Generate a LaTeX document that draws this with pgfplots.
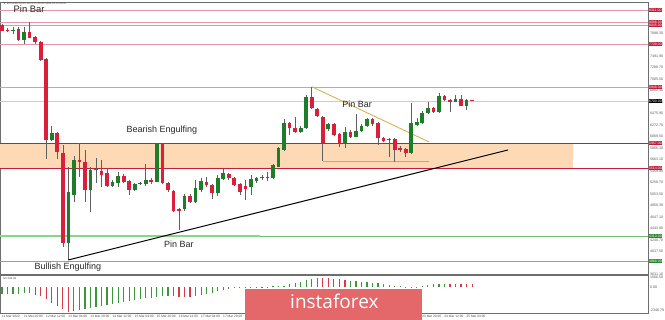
\documentclass[border=0pt]{standalone}
\usepackage{fontspec}
\setmainfont{Liberation Sans}
\newfontfamily\logofont{Open Sans}
\usepackage{pgfplots}
\usepackage{pgfplotstable}
\pgfplotsset{compat=1.18}
\definecolor{zone}{RGB}{253,217,182}
\definecolor{lred}{RGB}{196,28,58}
\definecolor{lpink}{RGB}{226,150,168}
\definecolor{cgreen}{RGB}{30,125,40}
\definecolor{cred}{RGB}{218,30,60}
\definecolor{wick}{RGB}{95,95,95}
\definecolor{gline}{RGB}{135,215,135}
\definecolor{gthin}{RGB}{110,190,110}
\definecolor{glab}{RGB}{40,135,45}
\definecolor{yel}{RGB}{215,170,60}
\definecolor{aog}{RGB}{60,150,60}
\definecolor{aor}{RGB}{215,60,70}
\definecolor{logo}{RGB}{228,104,106}
\definecolor{frame}{RGB}{110,110,110}

\pgfplotstableread{
i o h l c
2 7939 8010 7886 7951
4 7780 8010 7709 7927
9 6010 6257 5992 6134
12 4192 5532 3886 5095
13 5036 5726 4918 5656
16 5125 5537 4741 5479
20 5196 5302 5178 5266
21 5254 5449 5183 5378
24 5125 5249 5107 5231
25 5231 5266 5213 5240
26 5231 5585 5196 5302
28 5272 5957 5266 5939
33 4788 5054 4753 5024
35 4918 5302 4895 5165
36 5125 5337 5089 5284
39 5066 5390 5018 5332
40 5319 5514 5302 5426
45 5183 5390 5036 5319
46 5284 5355 5249 5337
47 5332 5390 5302 5337
48 5337 5443 5284 5342
49 5332 5585 5319 5567
50 5537 5886 5532 5868
51 5833 6381 5815 6311
54 6151 6257 6134 6222
55 6222 6806 6204 6776
59 6199 6311 6169 6293
62 5951 6240 5868 6157
64 6068 6470 6063 6169
65 6169 6293 6151 6263
66 6263 6399 6240 6376
74 5774 6659 5762 6305
75 6275 6399 6258 6334
76 6305 6523 6293 6488
77 6482 6688 6470 6581
79 6500 6847 6488 6789
82 6688 6806 6682 6730
84 6617 6735 6541 6718
}\upc

\pgfplotstableread{
i o h l c
0 8045 8063 7939 7944
1 7957 7992 7921 7939
3 7974 8015 7767 7780
5 7927 8104 7815 7820
6 7838 7850 7709 7750
7 7750 7762 7408 7426
8 7443 7461 5673 6010
10 6134 6151 5673 5797
11 5785 5921 4121 4187
14 5656 5957 5355 5626
15 5626 5833 4918 5125
17 5479 5691 5249 5470
18 5466 5656 5183 5390
19 5426 5514 5183 5196
22 5378 5408 5249 5272
23 5284 5302 5036 5125
27 5302 5337 5231 5272
29 5939 5957 5231 5254
30 5254 5266 5089 5125
31 5112 5125 4735 4758
32 4783 4806 4417 4758
34 5024 5054 4895 4918
37 5272 5355 5178 5213
38 5213 5231 4965 5066
41 5408 5426 5302 5337
42 5337 5355 5196 5213
43 5231 5249 5036 5095
44 5196 5302 4948 5142
52 6311 6328 6098 6227
53 6227 6417 6134 6157
56 6776 6953 6558 6571
57 6558 6576 6417 6434
58 6422 6434 5638 5951
60 6293 6311 6080 6098
61 6116 6134 5886 5951
63 6157 6187 6045 6068
67 6376 6399 6258 6288
68 6305 6328 5921 6040
69 6040 6063 5974 5997
70 6022 6045 5714 6013
71 6022 6045 5626 5833
72 5845 5904 5797 5841
73 5845 5868 5714 5774
78 6576 6594 6488 6500
80 6789 6806 6700 6718
81 6718 6735 6511 6688
83 6730 6806 6612 6617
85 6718 6726 6691 6700
}\dnc

\pgfplotstableread{
i v
0 -700
1 -690
2 -680
3 -670
4 -660
5 -650
13 -2441
14 -2338
15 -2235
16 -2132
17 -2029
18 -1926
19 -1823
20 -1720
21 -1617
22 -1514
23 -1411
24 -1308
25 -1236
26 -1164
27 -1102
28 -1030
29 -960
30 -900
35 -950
36 -830
37 -700
38 -570
39 -440
40 -320
41 -230
42 -150
43 -100
44 -65
45 -35
46 -15
47 15
48 35
49 60
50 90
51 150
52 280
53 400
54 560
55 700
56 850
57 960
63 620
64 570
65 520
66 470
67 420
68 370
69 310
70 250
71 90
72 60
73 40
74 30
75 40
76 150
77 210
78 260
79 300
80 330
}\aogreen

\pgfplotstableread{
i v
6 -790
7 -927
8 -1267
9 -1617
10 -1957
11 -2297
12 -2544
31 -930
32 -980
33 -1010
34 -1020
58 940
59 900
60 850
61 790
62 700
81 320
82 310
83 300
84 290
85 280
}\aored

\begin{document}
\begin{tikzpicture}
\useasboundingbox (0,0) rectangle (665pt,-320pt);
\begin{axis}[at={(0pt,-2pt)}, anchor=north west,
  width=648pt, height=272.7pt, scale only axis,
  xmin=-0.36, xmax=116.8, ymin=3625, ymax=8452,
  clip=false,
  axis line style={frame, line width=0.5pt},
  xtick=\empty,
  ytick={3631.1,4037.5,4240.7,4443.9,4647.1,4850.3,5053.5,5256.7,5459.9,5663.1,5866.3,6069.5,6272.7,6475.9,6679.1,6882.3,7085.5,7288.7,7491.9,7695.1,7898.3},
  ytick pos=right, yticklabel pos=right,
  scaled y ticks=false,
  tick align=outside, major tick length=1.2pt,
  tick style={frame, line width=0.3pt},
  yticklabel style={font=\fontsize{3.6}{4}\selectfont, text=black!65, inner sep=0.6pt},
  /pgf/number format/.cd, fixed, fixed zerofill, precision=2, 1000 sep={}, assume math mode=true,
]
% zone
\addplot[fill=zone, draw=none] coordinates {(-0.36,5514) (103.3,5514) (103.3,5957) (-0.36,5957)} -- cycle;
% horizontal levels
\addplot[lpink, line width=0.6pt] coordinates {(-0.36,8311) (116.8,8311)};
\addplot[lpink, line width=0.6pt] coordinates {(-0.36,8098) (116.8,8098)};
\addplot[lpink, line width=0.6pt] coordinates {(-0.36,8045) (116.8,8045)};
\addplot[lpink, line width=0.6pt] coordinates {(-0.36,7709) (116.8,7709)};
\addplot[lpink, line width=0.7pt] coordinates {(-0.36,6948) (116.8,6948)};
\addplot[black!20, line width=0.5pt] coordinates {(-0.36,6700) (116.8,6700)};
\addplot[lred, line width=0.9pt] coordinates {(-0.36,5957) (116.8,5957)};
\addplot[lred, line width=0.9pt] coordinates {(-0.36,5514) (116.8,5514)};
\addplot[gline, line width=2.2pt] coordinates {(-0.36,4310) (46.7,4310)};
\addplot[gthin, line width=0.5pt] coordinates {(46.7,4310) (116.8,4310)};
\addplot[gthin, line width=0.6pt] coordinates {(-0.36,3868) (116.8,3868)};
% triangle
\addplot[yel, line width=0.8pt] coordinates {(56,6953) (77.2,5974)};
\addplot[yel, line width=0.8pt] coordinates {(58,5638) (77.2,5638)};
% candles: wicks
\addplot[wick, line width=0.6pt, quiver={u=0, v=\thisrow{h}-\thisrow{l}}] table[x=i, y=l] {\upc};
\addplot[wick, line width=0.6pt, quiver={u=0, v=\thisrow{h}-\thisrow{l}}] table[x=i, y=l] {\dnc};
% bodies
\addplot[cgreen, line width=3.7pt, quiver={u=0, v={max(\thisrow{c}-\thisrow{o},18)}}] table[x=i, y=o] {\upc};
\addplot[cred, line width=3.7pt, quiver={u=0, v={max(\thisrow{o}-\thisrow{c},18)}}] table[x=i, y=c] {\dnc};
% trend line
\addplot[black, line width=1pt] coordinates {(12,3886) (91.5,5833)};
% annotations
\node[font=\fontsize{9.4}{10}\selectfont, text=black!85] at (axis cs:4.9,8328) {Pin Bar};
\node[font=\fontsize{9}{10}\selectfont, text=black!85] at (axis cs:28.9,6187) {Bearish Engulfing};
\node[font=\fontsize{9}{10}\selectfont, text=black!85] at (axis cs:11.9,3762) {Bullish Engulfing};
\node[font=\fontsize{9}{10}\selectfont, text=black!85] at (axis cs:32,4169) {Pin Bar};
\node[font=\fontsize{9}{10}\selectfont, text=black!85] at (axis cs:64.2,6647) {Pin Bar};
\node[anchor=west, font=\fontsize{2.8}{3}\selectfont, text=black!70, inner sep=0pt] at (axis cs:0.2,8418) {▼ BTCUSD,H4 6718.00 6726.00 6691.00 6700.00};
% right labels
\tikzset{lab/.style={anchor=west, text=white, font=\fontsize{3.5}{3.8}\selectfont, inner sep=0.5pt, xshift=0.4pt}}
\node[lab, fill=lred] at (axis cs:116.8,8311) {8311.00};
\node[lab, fill=lred] at (axis cs:116.8,8098) {8098.00};
\node[lab, fill=lred] at (axis cs:116.8,8045) {8045.00};
\node[lab, fill=lred] at (axis cs:116.8,7709) {7709.00};
\node[lab, fill=lred] at (axis cs:116.8,6948) {6948.00};
\node[lab, fill=black] at (axis cs:116.8,6700) {6700.00};
\node[lab, fill=lred] at (axis cs:116.8,5957) {5957.00};
\node[lab, fill=lred] at (axis cs:116.8,5514) {5514.00};
\node[lab, fill=glab] at (axis cs:116.8,4310) {4310.00};
\node[lab, fill=glab] at (axis cs:116.8,3868) {3868.00};
\end{axis}

\begin{axis}[at={(0pt,-275pt)}, anchor=north west,
  width=648pt, height=38pt, scale only axis,
  xmin=-0.36, xmax=116.8, ymin=-2678, ymax=1236,
  clip=false,
  axis line style={frame, line width=0.5pt},
  xtick={0,4,...,84},
  xticklabels={11 Mar 2020,11 Mar 20:00,12 Mar 12:00,13 Mar 04:00,13 Mar 20:00,14 Mar 12:00,15 Mar 04:00,15 Mar 20:00,16 Mar 12:00,17 Mar 04:00,17 Mar 20:00,18 Mar 12:00,19 Mar 04:00,19 Mar 20:00,20 Mar 12:00,21 Mar 04:00,21 Mar 20:00,22 Mar 12:00,23 Mar 04:00,23 Mar 20:00,24 Mar 12:00,25 Mar 04:00},
  xtick pos=bottom,
  xticklabel style={anchor=north west, font=\fontsize{3.2}{3.6}\selectfont, text=black!70, inner sep=0.6pt, xshift=-0.8pt},
  ytick={1030,0,-2370},
  yticklabels={1566.58,0.00,-2346.79},
  ytick pos=right, yticklabel pos=right,
  yticklabel style={font=\fontsize{3.6}{4}\selectfont, text=black!65, inner sep=0.6pt},
  tick align=outside, major tick length=1.2pt,
  tick style={frame, line width=0.3pt},
]
\addplot[ycomb, aog, line width=1.2pt] table[x=i, y=v] {\aogreen};
\addplot[ycomb, aor, line width=1.2pt] table[x=i, y=v] {\aored};
\node[anchor=west, font=\fontsize{2.8}{3}\selectfont, text=black!70, inner sep=0pt] at (rel axis cs:0.004,0.9) {AO 349.09};
\end{axis}

\fill[logo] (245pt,-289pt) rectangle (422pt,-320pt);
\node[anchor=base west, text=white, font=\logofont\fontsize{19}{19}\selectfont, inner sep=0pt] at (290pt,-309pt) {instaforex};
\end{tikzpicture}
\end{document}
